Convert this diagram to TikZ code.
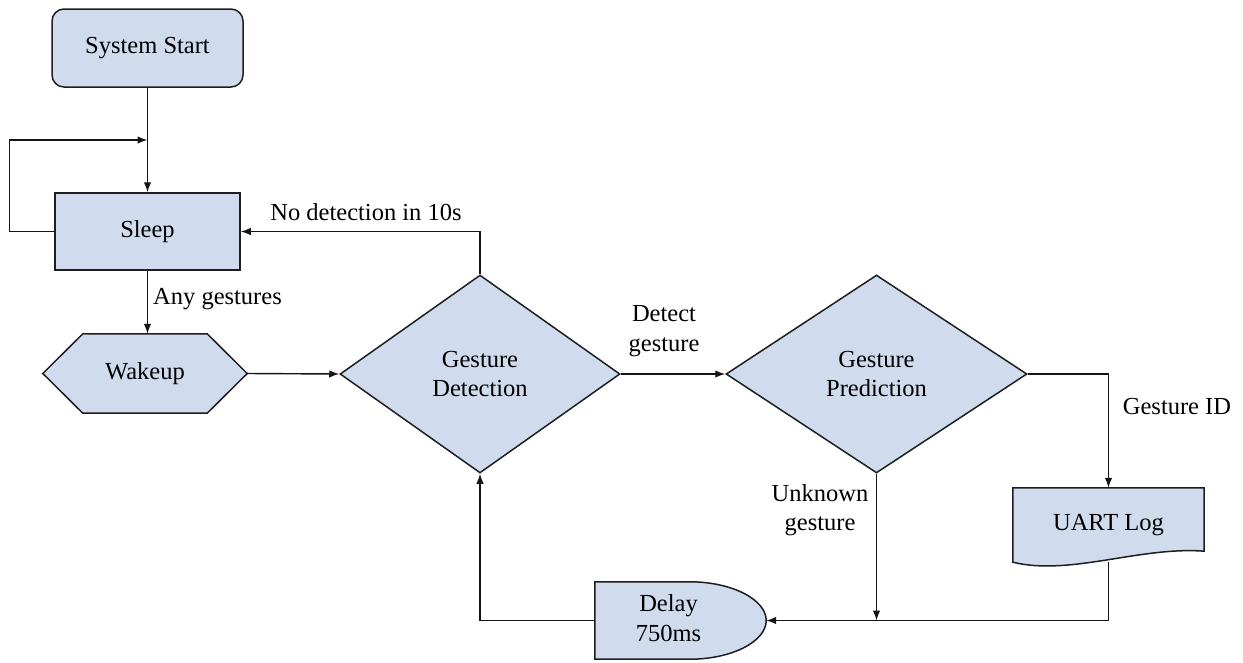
\documentclass[tikz,border=0pt]{standalone}
\usepackage{fontspec}
\setmainfont{Liberation Serif}
\usetikzlibrary{arrows.meta,shapes.geometric,calc}
\pgfdeclarelayer{bg}
\pgfsetlayers{bg,main}
\definecolor{boxfill}{RGB}{208,220,238}
\definecolor{edgecol}{RGB}{30,30,30}
\definecolor{linecol}{RGB}{20,20,20}
\begin{document}
\begin{tikzpicture}[x=1pt,y=-1pt,
  font=\fontsize{24.5}{29.5}\selectfont,
  box/.style={draw=edgecol,fill=boxfill,line width=1.5pt,inner sep=0pt,align=center,text=black},
  ghost/.style={inner sep=0pt,align=center,text=black},
  shapeline/.style={draw=edgecol,fill=boxfill,line width=1.5pt,line join=miter},
  conn/.style={line width=1.4pt,draw=linecol},
  arr/.style={conn,-{Latex[length=10pt,width=7.5pt]}},
  lbl/.style={inner sep=0pt,align=center,text=black}]
\useasboundingbox (0,0) rectangle (1243,662);

% nodes
\node[box,rounded corners=12pt,minimum width=191pt,minimum height=78pt] (start) at (147.5,48) {System Start};
\node[box,minimum width=185pt,minimum height=77pt] (sleep) at (147.5,231.5) {Sleep};
\node[ghost,minimum width=204pt,minimum height=79pt] (wake) at (145,373.5) {Wakeup};
\node[box,diamond,minimum width=280pt,minimum height=198pt] (gd) at (480,374) {Gesture\\Detection};
\node[box,diamond,minimum width=301pt,minimum height=198pt] (gp) at (876.5,374) {Gesture\\Prediction};
\node[ghost,minimum width=191pt,minimum height=74pt] (uart) at (1108.5,525) {UART Log};
\node[ghost,minimum width=171pt,minimum height=77pt] (delay) at (680.5,620.5)
  {\begin{tabular}{@{}c@{}}Delay\\750ms\end{tabular}\hspace*{24pt}};

% custom outlines behind the text
\begin{pgfonlayer}{bg}
\draw[shapeline] (wake.west) -- ($(wake.north west)+(40,0)$) -- ($(wake.north east)+(-40,0)$)
  -- (wake.east) -- ($(wake.south east)+(-40,0)$) -- ($(wake.south west)+(40,0)$) -- cycle;
\draw[shapeline] (uart.north west) -- (uart.north east) -- ($(uart.south east)+(0,-11)$)
  .. controls ($(uart.south east)+(-64,-16)$) and ($(uart.south west)+(57,14)$) .. (uart.south west) -- cycle;
\draw[shapeline] (delay.north west) -- ($(delay.north west)+(95,0)$)
  .. controls ($(delay.north west)+(137,0)$) and ($(delay.east)+(0,-21)$) .. (delay.east)
  .. controls ($(delay.east)+(0,21)$) and ($(delay.south west)+(137,0)$) .. ($(delay.south west)+(95,0)$)
  -- (delay.south west) -- cycle;
\end{pgfonlayer}

% connectors
\coordinate (loopin) at (147.5,140);
\draw[arr] (start) -- (sleep);
\draw[arr] (sleep.west) -- ++(-45,0) |- (loopin);
\draw[arr] (sleep.south) -- (sleep.south |- wake.north);
\draw[arr] (wake.east) -- (gd.west);
\draw[arr] (gd.north) |- (sleep.east);
\draw[arr] (gd.east) -- (gp.west);
\draw[arr] (gp.east) -| (uart.north);
\draw[arr] (gp.south) -- (gp.south |- delay.east);
\draw[arr] (uart.south) |- (delay.east);
\draw[arr] (delay.west) -| (gd.south);

% labels
\node[lbl,anchor=west] (lany) at (153,299) {Any gestures};
\node[lbl] (lno) at (366,212) {No detection in 10s};
\node[lbl] (ldet) at (664,331) {Detect\\gesture};
\node[lbl] (lid) at (1177,407) {Gesture ID};
\node[lbl] (lunk) at (820,510) {Unknown\\gesture};
\end{tikzpicture}
\end{document}
